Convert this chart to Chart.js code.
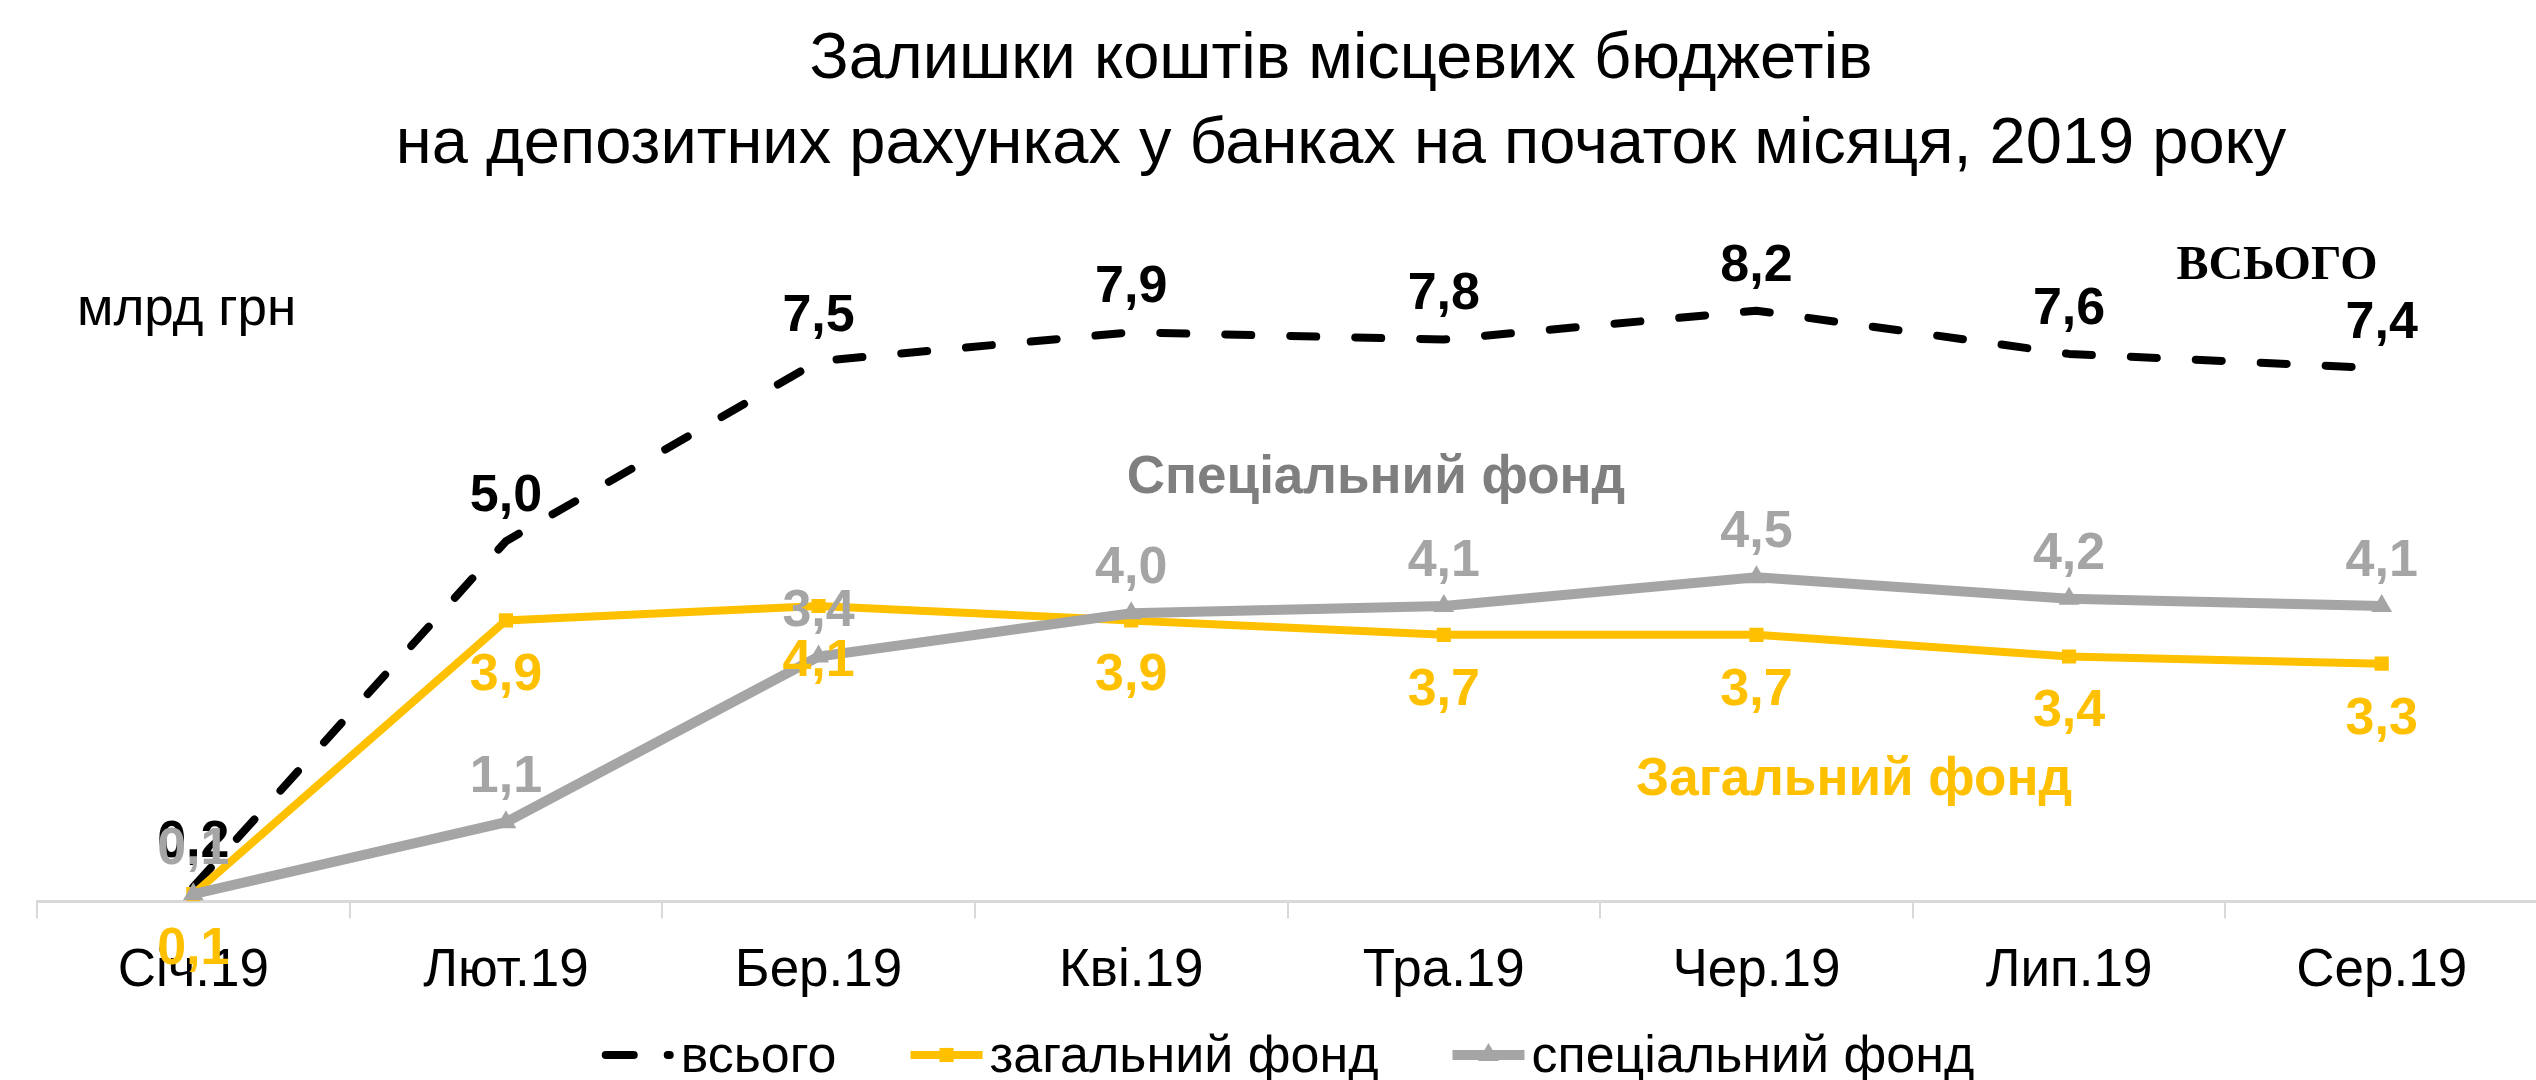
<!DOCTYPE html>
<html lang="uk">
<head>
<meta charset="utf-8">
<title>Залишки коштів місцевих бюджетів</title>
<script src="https://cdn.jsdelivr.net/npm/chart.js@4.4.1/dist/chart.umd.min.js"></script>
<style>
  html, body { margin: 0; padding: 0; background: #fff; overflow: hidden; }
  #chart { display: block; }
</style>
</head>
<body>
<canvas id="chart" width="2550" height="1080"></canvas>
<script>
// ---- data ----
const months = ['Січ.19', 'Лют.19', 'Бер.19', 'Кві.19', 'Тра.19', 'Чер.19', 'Лип.19', 'Сер.19'];
const totalValues = [0.2, 5.0, 7.5, 7.9, 7.8, 8.2, 7.6, 7.4];
const generalFund = [0.1, 3.9, 4.1, 3.9, 3.7, 3.7, 3.4, 3.3];
const specialFund = [0.1, 1.1, 3.4, 4.0, 4.1, 4.5, 4.2, 4.1];
const seriesNames = ['всього', 'загальний фонд', 'спеціальний фонд'];
const titleLines = ['Залишки коштів місцевих бюджетів', 'на депозитних рахунках у банках на початок місяця, 2019 року'];
const unitLabel = 'млрд грн';
const seriesTags = ['ВСЬОГО', 'Загальний фонд', 'Спеціальний фонд'];

const SANS = '"Liberation Sans", Arial, sans-serif';
const SERIF = '"Liberation Serif", "Times New Roman", serif';
const COLORS = { total: '#000000', general: '#FFC000', special: '#A5A5A5', specialTag: '#7F7F7F', axis: '#D9D9D9' };

const fmt = v => v.toFixed(1).replace('.', ',');

/**
 * Value labels above / below each point
 */
const valueLabels = {
  id: 'valueLabels',
  afterDatasetsDraw(chart) {
    const ctx = chart.ctx;
    ctx.save();
    ctx.font = `bold 52px ${SANS}`;
    ctx.textAlign = 'center';
    ctx.textBaseline = 'alphabetic';
    chart.data.datasets.forEach((ds, i) => {
      const meta = chart.getDatasetMeta(i);
      ctx.fillStyle = ds.labelColor;
      meta.data.forEach((pt, j) => {
        const y = ds.labelSide === 'below' ? pt.y + 70 : pt.y - 30;
        ctx.fillText(fmt(ds.data[j]), pt.x, y);
      });
    });
    ctx.restore();
  }
};

/**
 * Title, unit and series captions
 */
const captions = {
  id: 'captions',
  afterDraw(chart) {
    const ctx = chart.ctx;
    ctx.save();
    ctx.textBaseline = 'alphabetic';
    ctx.textAlign = 'center';
    ctx.fillStyle = '#000';
    ctx.font = `65px ${SANS}`;
    ctx.fillText(titleLines[0], 1341, 78);
    ctx.fillText(titleLines[1], 1341, 163);

    ctx.textAlign = 'left';
    ctx.font = `53px ${SANS}`;
    ctx.fillText(unitLabel, 77, 325);

    ctx.textAlign = 'center';
    ctx.font = `bold 48px ${SERIF}`;
    ctx.fillText(seriesTags[0], 2277, 279);

    ctx.font = `bold 53px ${SANS}`;
    ctx.fillStyle = COLORS.general;
    ctx.fillText(seriesTags[1], 1854, 795);
    ctx.fillStyle = COLORS.specialTag;
    ctx.fillText(seriesTags[2], 1376, 493);
    ctx.restore();
  }
};

/**
 * Bottom legend: line sample with marker, then series name
 */
const lineLegend = {
  id: 'lineLegend',
  afterDraw(chart) {
    const ctx = chart.ctx;
    const sampleLen = 72, textGap = 7, itemGap = 74;
    const centerX = 1288, baseY = 1072, midY = 1055;
    ctx.save();
    ctx.font = `52px ${SANS}`;
    const widths = chart.data.datasets.map(ds => ctx.measureText(ds.label).width);
    const total = widths.reduce((a, w) => a + sampleLen + textGap + w, 0) + itemGap * (widths.length - 1);
    let x = centerX - total / 2;

    chart.data.datasets.forEach((ds, i) => {
      ctx.save();
      ctx.strokeStyle = ds.borderColor;
      ctx.lineWidth = ds.borderWidth;
      ctx.lineCap = ds.borderCapStyle || 'butt';
      if (ds.borderDash) {
        ctx.setLineDash([28, 34]);
        ctx.beginPath();
        ctx.moveTo(x + 4, midY);
        ctx.lineTo(x + sampleLen - 4, midY);
        ctx.stroke();
      } else {
        ctx.beginPath();
        ctx.moveTo(x, midY);
        ctx.lineTo(x + sampleLen, midY);
        ctx.stroke();
      }
      ctx.setLineDash([]);
      if (ds.pointRadius > 0 && Chart.helpers && Chart.helpers.drawPoint) {
        ctx.fillStyle = ds.backgroundColor;
        Chart.helpers.drawPoint(ctx, {
          pointStyle: ds.pointStyle, radius: ds.pointRadius, rotation: 0, borderWidth: 0
        }, x + sampleLen / 2, midY);
      }
      ctx.restore();

      ctx.fillStyle = '#000';
      ctx.textAlign = 'left';
      ctx.textBaseline = 'alphabetic';
      ctx.fillText(ds.label, x + sampleLen + textGap, baseY);
      x += sampleLen + textGap + widths[i] + itemGap;
    });
    ctx.restore();
  }
};

const chart = new Chart(document.getElementById('chart'), {
  type: 'line',
  data: {
    labels: months,
    datasets: [
      {
        label: seriesNames[0],
        data: totalValues,
        borderColor: COLORS.total,
        backgroundColor: COLORS.total,
        borderWidth: 8,
        borderDash: [26, 39],
        borderCapStyle: 'round',
        borderJoinStyle: 'round',
        pointRadius: 0,
        order: 3,
        labelColor: COLORS.total,
        labelSide: 'above'
      },
      {
        label: seriesNames[1],
        data: generalFund,
        borderColor: COLORS.general,
        backgroundColor: COLORS.general,
        borderWidth: 8,
        pointStyle: 'rect',
        pointRadius: 10,
        pointBorderWidth: 0,
        order: 2,
        labelColor: COLORS.general,
        labelSide: 'below'
      },
      {
        label: seriesNames[2],
        data: specialFund,
        borderColor: COLORS.special,
        backgroundColor: COLORS.special,
        borderWidth: 10,
        pointStyle: 'triangle',
        pointRadius: 12,
        pointBorderWidth: 0,
        order: 1,
        labelColor: COLORS.special,
        labelSide: 'above'
      }
    ]
  },
  options: {
    responsive: false,
    animation: false,
    devicePixelRatio: 1,
    events: [],
    layout: {
      padding: { top: 181, left: 37, right: 1, bottom: 56 }
    },
    scales: {
      x: {
        offset: true,
        grid: {
          offset: true,
          drawOnChartArea: false,
          drawTicks: true,
          tickLength: 17,
          color: COLORS.axis,
          lineWidth: 2
        },
        border: { display: true, color: COLORS.axis, width: 3 },
        ticks: {
          color: '#000',
          padding: 21,
          font: { family: SANS, size: 53 }
        }
      },
      y: {
        display: false,
        min: 0,
        max: 10
      }
    },
    plugins: {
      legend: { display: false },
      title: { display: false },
      tooltip: { enabled: false }
    }
  },
  plugins: [valueLabels, captions, lineLegend]
});
</script>
</body>
</html>
